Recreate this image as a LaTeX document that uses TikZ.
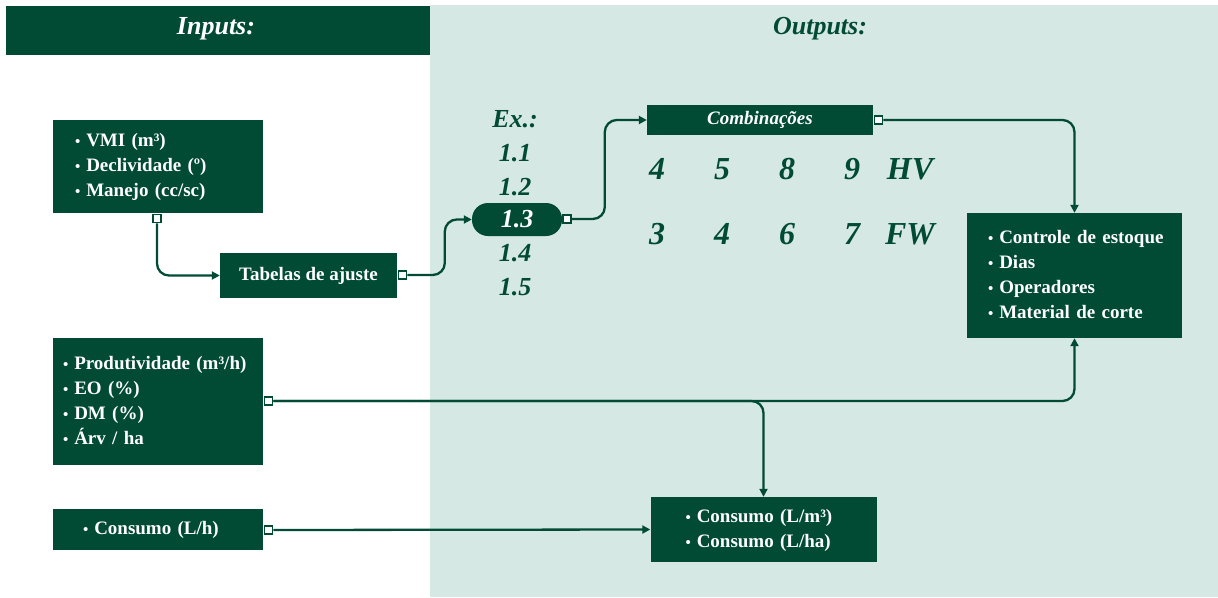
\documentclass[tikz,border=0pt]{standalone}
\usepackage{fontspec}
\setmainfont{Liberation Serif}
\usetikzlibrary{arrows.meta}
\definecolor{dg}{RGB}{1,75,53}
\definecolor{lt}{RGB}{213,232,227}
\newcommand{\bl}{{\fontsize{15}{15}\selectfont •}\hspace{6pt}}
\begin{document}
\begin{tikzpicture}[x=1pt,y=-1pt,
  box/.style={fill=dg, text=white, font=\bfseries\fontsize{19}{25}\selectfont, inner ysep=0pt, align=left},
  cbox/.style={fill=dg, text=white, font=\bfseries\fontsize{19}{25}\selectfont, inner sep=0pt},
  port/.style={draw=dg, fill=white, line width=1.7pt, minimum size=8pt, inner sep=0pt},
  conn/.style={draw=dg, line width=2.3pt, rounded corners=12pt, -{Triangle[length=8pt,width=8pt]}},
  ex/.style={text=dg, font=\bfseries\itshape\fontsize{26}{26}\selectfont, inner sep=0pt},
  num/.style={text=dg, font=\bfseries\itshape\fontsize{32}{32}\selectfont, inner sep=0pt},
  head/.style={font=\bfseries\itshape\fontsize{26}{26}\selectfont, inner sep=0pt}]
\useasboundingbox (0,0) rectangle (1218,597);
% backgrounds
\fill[lt] (430,5) rectangle (1218,597);
\fill[dg] (6,6) rectangle (430,55);
\node[head, text=white] (hin) at (216,29) {Inputs:};
\node[head, text=dg] (hout) at (820,29) {Outputs:};
% input boxes
\node[box, text width=166pt, inner xsep=22pt, minimum height=93pt] (A) at (158,166.5)
 {\begin{tabular}{@{}l@{}}\bl VMI (m³)\\ \bl Declividade (º)\\ \bl Manejo (cc/sc)\end{tabular}};
\node[cbox, minimum width=177pt, minimum height=45pt] (tab) at (308.5,275.5) {Tabelas de ajuste};
\node[box, text width=190pt, inner xsep=10pt, minimum height=127pt] (prod) at (158,401.5)
 {\begin{tabular}{@{}l@{}}\bl Produtividade (m³/h)\\ \bl EO (\%)\\ \bl DM (\%)\\ \bl Árv / ha\end{tabular}};
\node[box, text width=150pt, inner xsep=30pt, minimum height=41pt] (cl) at (158,529.5)
 {\begin{tabular}{@{}l@{}}\bl Consumo (L/h)\end{tabular}};
% Ex column
\node[ex] (ex) at (515,119) {Ex.:};
\node[ex] (e11) at (515,153) {1.1};
\node[ex] (e12) at (515,187) {1.2};
\node[fill=dg, rounded corners=16pt, minimum width=90pt, minimum height=33pt, inner sep=0pt, text=white, font=\bfseries\itshape\fontsize{26}{26}\selectfont] (n13) at (517,219.5) {1.3};
\node[ex] (e14) at (515,253) {1.4};
\node[ex] (e15) at (515,287) {1.5};
% combinations
\node[cbox, minimum width=226pt, minimum height=30pt, font=\bfseries\itshape\fontsize{19}{19}\selectfont] (comb) at (760,120) {Combinações};
\node[num] (a4) at (657,169) {4};
\node[num] (a5) at (722,169) {5};
\node[num] (a8) at (787,169) {8};
\node[num] (a9) at (852,169) {9};
\node[num] (hv) at (910,169) {HV};
\node[num] (b3) at (657,234) {3};
\node[num] (b4) at (722,234) {4};
\node[num] (b6) at (787,234) {6};
\node[num] (b7) at (852,234) {7};
\node[num] (fw) at (910,234) {FW};
% output boxes
\node[box, text width=173pt, inner xsep=21pt, minimum height=125pt] (ctrl) at (1074.5,275.5)
 {\begin{tabular}{@{}l@{}}\bl Controle de estoque\\ \bl Dias\\ \bl Operadores\\ \bl Material de corte\end{tabular}};
\node[box, text width=156pt, inner xsep=35pt, minimum height=65pt] (cons) at (763.5,529.5)
 {\begin{tabular}{@{}l@{}}\bl Consumo (L/m³)\\ \bl Consumo (L/ha)\end{tabular}};
% ports
\node[port] (pA) at (157,218.5) {};
\node[port] (pTab) at (402.5,275) {};
\node[port] (p13) at (567,219) {};
\node[port] (pComb) at (878.5,120) {};
\node[port] (pProd) at (268.5,401) {};
\node[port] (pCL) at (268.5,530) {};
% connectors
\draw[conn] (pA.south) |- (tab.west);
\draw[conn] (pTab.east) -| ([xshift=-27pt]n13.west) -- (n13.west);
\draw[conn] (p13.east) -| ([xshift=-42pt]comb.west) -- (comb.west);
\draw[conn] (pComb.east) -| (ctrl.north);
\draw[conn] (pProd.east) -| (ctrl.south);
\draw[conn] (pProd.east) -| (cons.north);
\draw[conn] (pCL.east) -- (cons.west);
% ports on top
\node[port] at (pA) {};
\node[port] at (pTab) {};
\node[port] at (p13) {};
\node[port] at (pComb) {};
\node[port] at (pProd) {};
\node[port] at (pCL) {};
\end{tikzpicture}
\end{document}
